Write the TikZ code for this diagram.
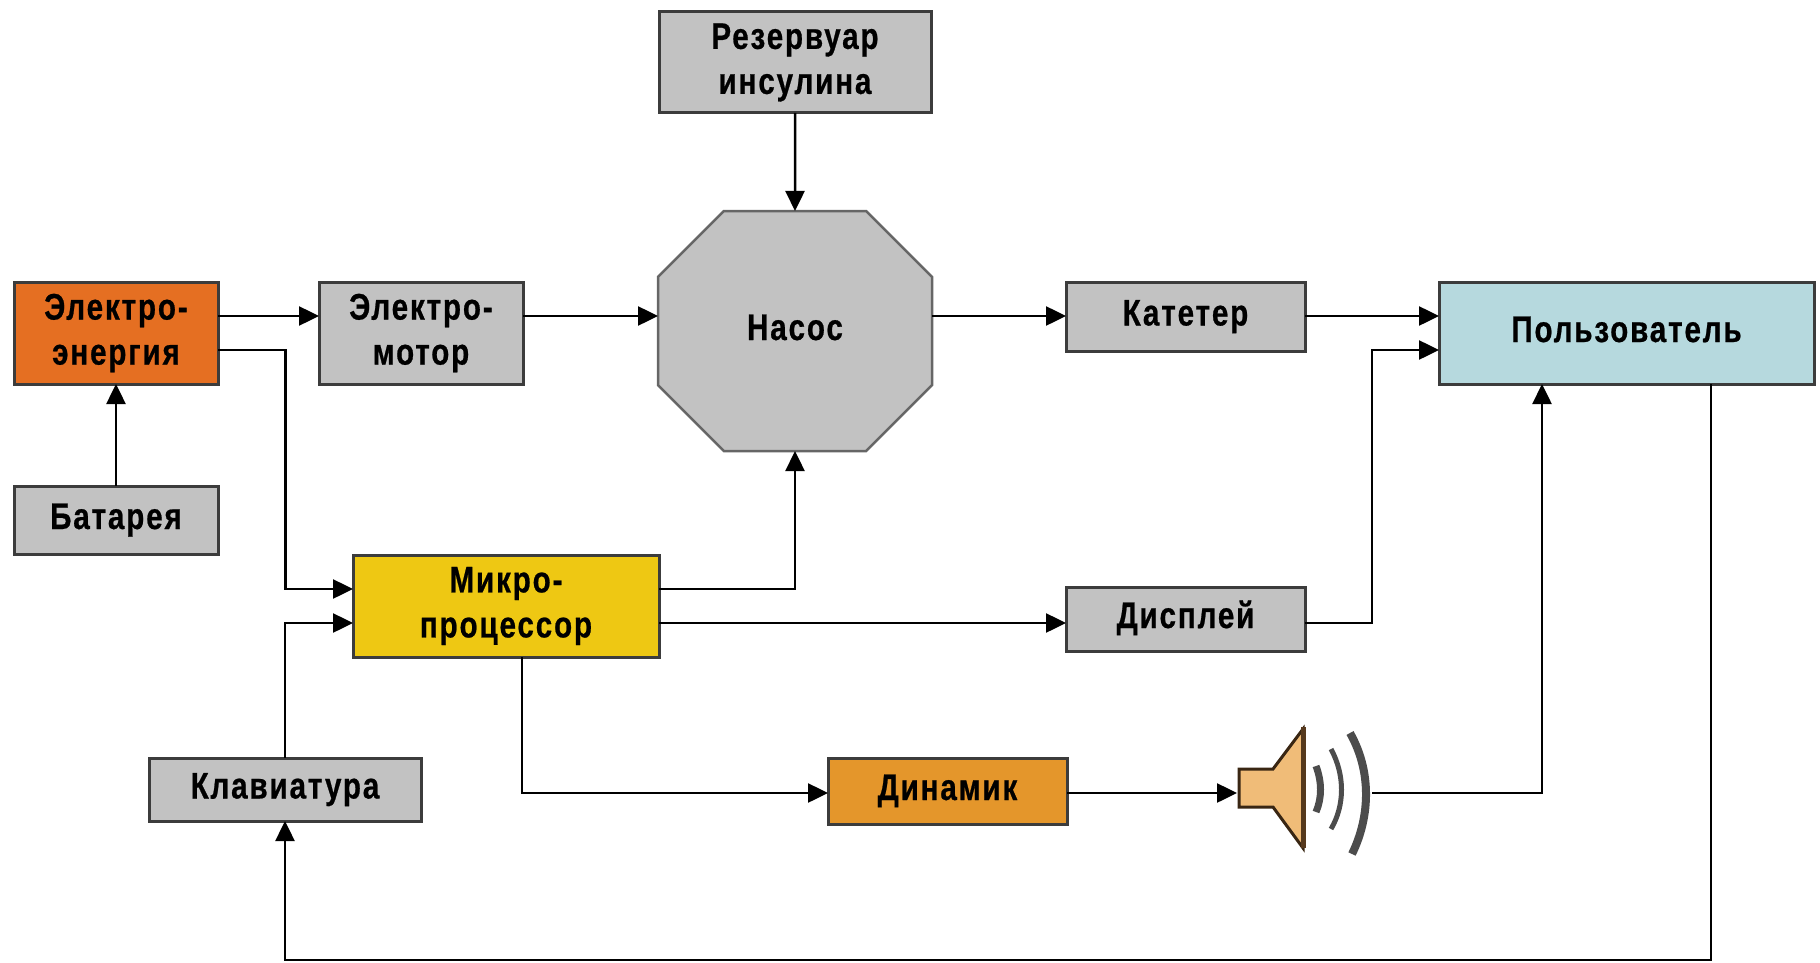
\documentclass[tikz,border=0pt]{standalone}
\usepackage{fontspec}
\setmainfont{Liberation Sans}[FakeStretch=0.8,LetterSpace=5,BoldFont={Liberation Sans Bold},BoldFeatures={FakeBold=0.6}]
\usepackage{xcolor}
\usetikzlibrary{positioning,shapes.misc,arrows.meta}
\definecolor{edgegrey}{HTML}{3C3C3C}
\definecolor{boxgrey}{HTML}{C2C2C2}
\definecolor{powerorange}{HTML}{E56F22}
\definecolor{chipyellow}{HTML}{EEC813}
\definecolor{speakerorange}{HTML}{E4962B}
\definecolor{userblue}{HTML}{B6D9DE}
\definecolor{conefill}{HTML}{F0BC78}

\begin{document}
\begin{tikzpicture}[x=1pt, y=-1pt, >={Triangle[length=20pt,width=19pt]}, line width=2.5pt,
  box/.style={draw=edgegrey, line width=3pt, fill=boxgrey, align=center, inner sep=0pt, outer sep=0pt, font=\fontsize{37}{45}\selectfont\bfseries},
  small box/.style={box, minimum width=204pt, minimum height=102pt},
  one line/.style={box, text height=27pt, text depth=9pt},
  wave/.style={draw=black!70, line width=5pt}]
\useasboundingbox (0,0) rectangle (1820,963);
\node (power) [small box, fill=powerorange] at (116,333) {Электро-\\энергия};
\node (motor) [small box, right=101pt of power] {Электро-\\мотор};
\node (battery) [one line, small box, minimum height=68pt, below=102pt of power] {Батарея};
\node (tank) [box, minimum width=272pt, minimum height=101pt] at (795,62.5) {Резервуар\\инсулина};
\node (pump) [one line, draw=black!60, line width=2.5pt, chamfered rectangle, chamfered rectangle xsep=92pt, chamfered rectangle ysep=92pt, minimum width=274pt, minimum height=240pt, below=98pt of tank] {Насос};
\node (catheter) [one line, minimum width=239pt, minimum height=69pt] at (1185.5,316.5) {Катетер};
\node (user) [one line, fill=userblue, minimum width=375pt, minimum height=102pt] at (1626.5,333) {Пользователь};
\node (chip) [box, fill=chipyellow, minimum width=306pt, minimum height=102pt] at (506,606) {Микро-\\процессор};
\node (display) [one line, minimum width=239pt, minimum height=64pt] at (1185.5,619) {Дисплей};
\node (horn) [one line, fill=speakerorange, minimum width=239pt, minimum height=66pt] at (947.5,791) {Динамик};
\node (keys) [one line, minimum width=272pt, minimum height=63pt] at (285,789.5) {Клавиатура};
\coordinate (spkin) at (1237,793);
\coordinate (spkout) at (1372,793);
\coordinate (busright) at (1711,960);
% speaker
\draw [draw=black!70!brown, line width=3pt, fill=conefill] (1239,769) -- (1273,769) -- (1303,729) -- (1303,848) -- (1273,807) -- (1239,807) -- cycle;
\draw [draw=black!55!brown, line width=5pt] (1303,727) -- (1303,848);
\draw [wave, line width=7pt] (1316,766) .. controls (1322,782) and (1322,798) .. (1316,812);
\draw [wave] (1331,749) .. controls (1345,775) and (1345,805) .. (1331,829);
\draw [wave, line width=8pt] (1350,733) .. controls (1371,770) and (1371,815) .. (1352,854);
% connectors
\draw[->] ([yshift=17pt]power.east) -- ([yshift=17pt]motor.west);
\draw[->] (battery) -- (power);
\draw[->] ([yshift=-17pt]power.east) -| (285.5,589) -- ([yshift=17pt]chip.west);
\draw[->] ([yshift=17pt]motor.east) -- ([yshift=15pt]pump.west);
\draw[->] (tank) -- (pump);
\draw[->] ([yshift=15pt]pump.east) -- ([yshift=0.5pt]catheter.west);
\draw[->] ([yshift=0.5pt]catheter.east) -- ([yshift=17pt]user.west);
\draw[->] ([yshift=-4pt]display.east) -| (1372,350) -- ([yshift=-17pt]user.west);
\draw[->] ([yshift=17pt]chip.east) -| (pump);
\draw[->] ([yshift=-17pt]chip.east) -- ([yshift=-4pt]display.west);
\draw[->] (522,657) |- ([yshift=-2pt]horn.west);
\draw[->] (keys.north) |- ([yshift=-17pt]chip.west);
\draw[->] ([yshift=-2pt]horn.east) -- (spkin);
\draw[->] (spkout) -| (1542,384);
\draw[->] (1711,384) -- (busright) -| (keys.south);
\end{tikzpicture}
\end{document}
